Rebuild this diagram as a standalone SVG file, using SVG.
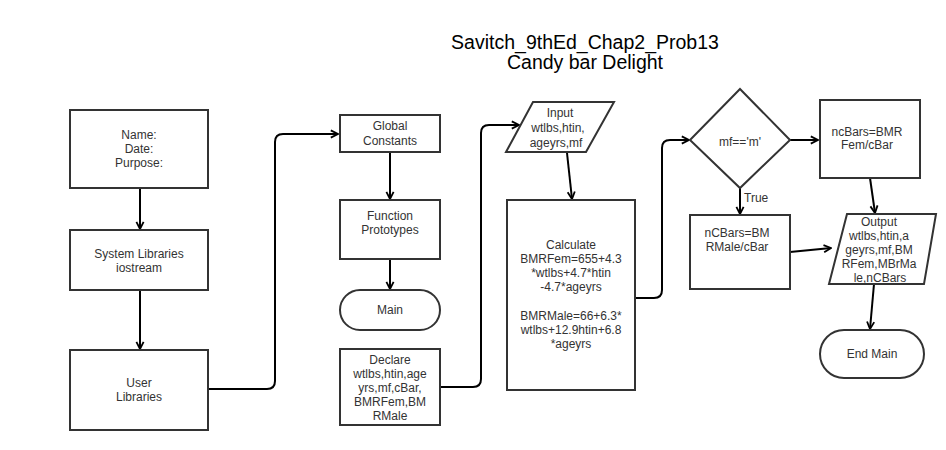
<svg xmlns="http://www.w3.org/2000/svg" width="946" height="450" viewBox="0 0 946 450">
<defs>
<marker id="arr" viewBox="0 0 10 10" refX="9" refY="5" markerWidth="9" markerHeight="11" markerUnits="userSpaceOnUse" orient="auto">
<path d="M1,1 L9,5 L1,9" fill="none" stroke="#000" stroke-width="2"/>
</marker>
<style>
.box{fill:#fff;stroke:#333;stroke-width:2}
.t{font-family:"Liberation Sans",Arial,sans-serif;font-size:12px;fill:#333;text-anchor:middle}
.title{font-family:"Liberation Sans",Arial,sans-serif;font-size:19.5px;fill:#000;text-anchor:middle}
.c{fill:none;stroke:#000;stroke-width:2;marker-end:url(#arr)}
</style>
</defs>
<rect width="946" height="450" fill="#fff"/>
<g id="title">
<text class="title" x="585" y="49">Savitch_9thEd_Chap2_Prob13</text>
<text class="title" x="585" y="69">Candy bar Delight</text>
</g>
<g id="connectors">
<path class="c" d="M140,189 V229"/>
<path class="c" d="M140,290 V349"/>
<path class="c" d="M209,389 H267 Q275,389 275,381 V142 Q275,134 283,134 H338"/>
<path class="c" d="M390,152 V199"/>
<path class="c" d="M390,259 V289"/>
<path class="c" d="M440,387 H473 Q481,387 481,379 V133 Q481,125 489,125 H519"/>
<path class="c" d="M567,153 L572,199"/>
<path class="c" d="M635,298 H654 Q662,298 662,290 V148 Q662,140 670,140 H689"/>
<path class="c" d="M790,140 H818"/>
<path class="c" d="M740,188 V214"/>
<path class="c" d="M790,252 L831,248"/>
<path class="c" d="M870,178 L875,213"/>
<path class="c" d="M874,284 L870,329"/>
</g>
<g id="name">
<rect class="box" x="70" y="110" width="138" height="78"/>
<text class="t" x="139" y="139">Name:</text>
<text class="t" x="139" y="153">Date:</text>
<text class="t" x="139" y="167">Purpose:</text>
</g>
<g id="syslib">
<rect class="box" x="70" y="230" width="138" height="60"/>
<text class="t" x="139" y="258">System Libraries</text>
<text class="t" x="139" y="272">iostream</text>
</g>
<g id="userlib">
<rect class="box" x="70" y="350" width="138" height="80"/>
<text class="t" x="139" y="387">User</text>
<text class="t" x="139" y="401">Libraries</text>
</g>
<g id="global">
<rect class="box" x="340" y="115" width="100" height="37"/>
<text class="t" x="390" y="130">Global</text>
<text class="t" x="390" y="145">Constants</text>
</g>
<g id="proto">
<rect class="box" x="340" y="200" width="100" height="59"/>
<text class="t" x="390" y="220">Function</text>
<text class="t" x="390" y="234">Prototypes</text>
</g>
<g id="main">
<rect class="box" x="340" y="290" width="100" height="40" rx="20" ry="20"/>
<text class="t" x="390" y="314">Main</text>
</g>
<g id="declare">
<rect class="box" x="340" y="349" width="100" height="76"/>
<text class="t" x="390" y="364">Declare</text>
<text class="t" x="390" y="378">wtlbs,htin,age</text>
<text class="t" x="390" y="392">yrs,mf,cBar,</text>
<text class="t" x="390" y="406">BMRFem,BM</text>
<text class="t" x="390" y="420">RMale</text>
</g>
<g id="input">
<polygon class="box" points="533,102 614,102 586,152 506,152"/>
<text class="t" x="560" y="117">Input</text>
<text class="t" x="558" y="132">wtlbs,htin,</text>
<text class="t" x="556" y="147">ageyrs,mf</text>
</g>
<g id="calc">
<rect class="box" x="507" y="200" width="128" height="190"/>
<text class="t" x="571" y="249">Calculate</text>
<text class="t" x="571" y="263">BMRFem=655+4.3</text>
<text class="t" x="571" y="277">*wtlbs+4.7*htin</text>
<text class="t" x="571" y="291">-4.7*ageyrs</text>
<text class="t" x="571" y="320">BMRMale=66+6.3*</text>
<text class="t" x="571" y="334">wtlbs+12.9htin+6.8</text>
<text class="t" x="571" y="348">*ageyrs</text>
</g>
<g id="decision">
<polygon class="box" points="740,89 790,140 740,188 690,140"/>
<text class="t" x="740" y="146">mf=='m'</text>
<text class="t" x="744" y="202" style="text-anchor:start">True</text>
</g>
<g id="ncbarsfem">
<rect class="box" x="820" y="100" width="100" height="78"/>
<text class="t" x="867" y="136">ncBars=BMR</text>
<text class="t" x="867" y="149">Fem/cBar</text>
</g>
<g id="ncbarsmale">
<rect class="box" x="690" y="215" width="100" height="74"/>
<text class="t" x="737" y="237">nCBars=BM</text>
<text class="t" x="737" y="251">RMale/cBar</text>
</g>
<g id="output">
<polygon class="box" points="847,214 936,214 924,284 829,284"/>
<text class="t" x="879" y="226">Output</text>
<text class="t" x="879" y="240">wtlbs,htin,a</text>
<text class="t" x="879" y="254">geyrs,mf,BM</text>
<text class="t" x="879" y="268">RFem,MBrMa</text>
<text class="t" x="880" y="282">le,nCBars</text>
</g>
<g id="endmain">
<rect class="box" x="820" y="330" width="104" height="48" rx="24" ry="24"/>
<text class="t" x="872" y="358">End Main</text>
</g>
</svg>
